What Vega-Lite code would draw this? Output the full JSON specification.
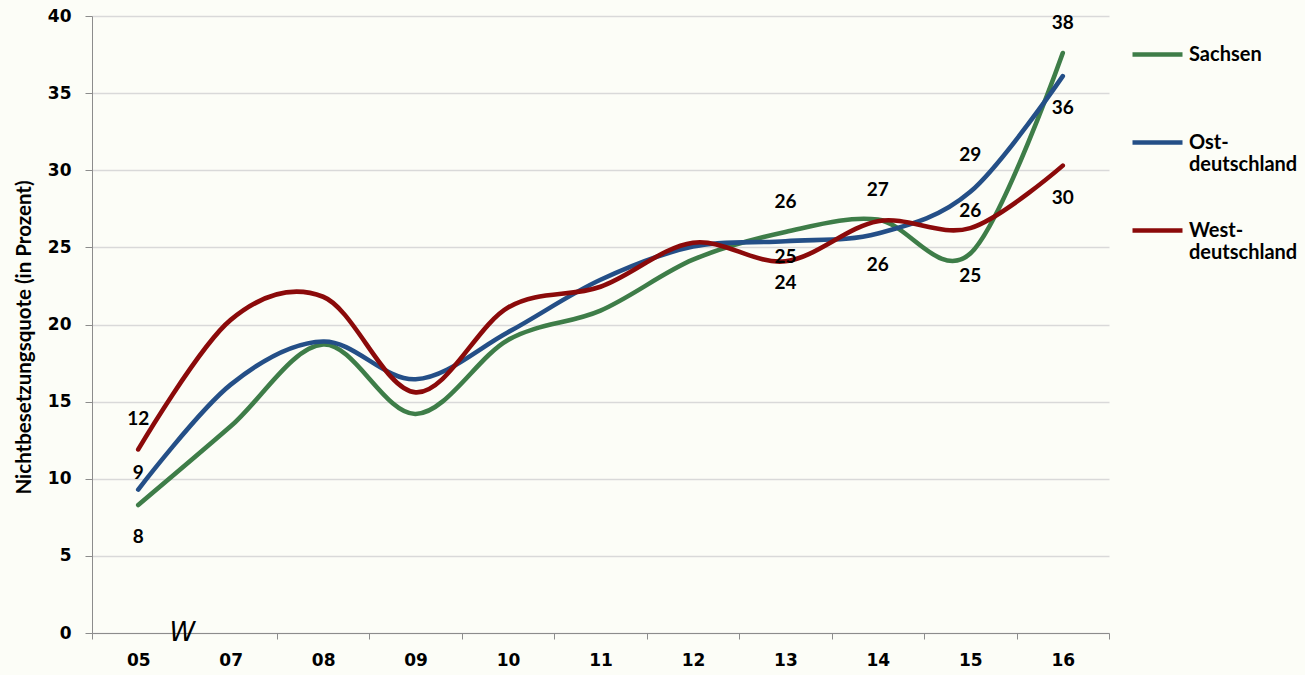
{
  "$schema": "https://vega.github.io/schema/vega-lite/v6.json",
  "width": 1017,
  "height": 617,
  "autosize": {"type": "none"},
  "padding": {"left": 92, "top": 16, "right": 196, "bottom": 42},
  "background": "#fcfdf7",
  "config": {"view": {"stroke": null}},
  "datasets": {
    "quote": [
      {"year": "05", "series": "Sachsen", "value": 8.3},
      {"year": "07", "series": "Sachsen", "value": 13.4},
      {"year": "08", "series": "Sachsen", "value": 18.7},
      {"year": "09", "series": "Sachsen", "value": 14.2},
      {"year": "10", "series": "Sachsen", "value": 19.0},
      {"year": "11", "series": "Sachsen", "value": 20.9},
      {"year": "12", "series": "Sachsen", "value": 24.2},
      {"year": "13", "series": "Sachsen", "value": 26.0},
      {"year": "14", "series": "Sachsen", "value": 26.8},
      {"year": "15", "series": "Sachsen", "value": 24.6},
      {"year": "16", "series": "Sachsen", "value": 37.6},
      {"year": "05", "series": "Ostdeutschland", "value": 9.3},
      {"year": "07", "series": "Ostdeutschland", "value": 16.1},
      {"year": "08", "series": "Ostdeutschland", "value": 18.9},
      {"year": "09", "series": "Ostdeutschland", "value": 16.45},
      {"year": "10", "series": "Ostdeutschland", "value": 19.5},
      {"year": "11", "series": "Ostdeutschland", "value": 22.9},
      {"year": "12", "series": "Ostdeutschland", "value": 25.05},
      {"year": "13", "series": "Ostdeutschland", "value": 25.4},
      {"year": "14", "series": "Ostdeutschland", "value": 25.9},
      {"year": "15", "series": "Ostdeutschland", "value": 28.6},
      {"year": "16", "series": "Ostdeutschland", "value": 36.1},
      {"year": "05", "series": "Westdeutschland", "value": 11.9},
      {"year": "07", "series": "Westdeutschland", "value": 20.3},
      {"year": "08", "series": "Westdeutschland", "value": 21.8},
      {"year": "09", "series": "Westdeutschland", "value": 15.6},
      {"year": "10", "series": "Westdeutschland", "value": 21.1},
      {"year": "11", "series": "Westdeutschland", "value": 22.45},
      {"year": "12", "series": "Westdeutschland", "value": 25.3},
      {"year": "13", "series": "Westdeutschland", "value": 24.1},
      {"year": "14", "series": "Westdeutschland", "value": 26.7},
      {"year": "15", "series": "Westdeutschland", "value": 26.25},
      {"year": "16", "series": "Westdeutschland", "value": 30.3}
    ],
    "brk": [{"year": "05", "value": 0, "sym": "W"}]
  },
  "data": {"name": "quote"},
  "encoding": {
    "x": {
      "field": "year", "type": "ordinal", "bandPosition": 0.5,
      "scale": {"type": "band", "paddingInner": 0, "paddingOuter": 0},
      "axis": {
        "title": null, "labelAngle": 0, "tickBand": "extent",
        "domainColor": "#8c8c8c", "tickColor": "#8c8c8c", "tickSize": 6,
        "labelFont": "DejaVu Sans", "labelFontWeight": "bold", "labelFontSize": 17,
        "labelColor": "#000000", "labelPadding": 13
      }
    },
    "y": {
      "field": "value", "type": "quantitative",
      "scale": {"domain": [0, 40], "nice": false},
      "axis": {
        "title": "Nichtbesetzungsquote  (in Prozent)",
        "titleFont": "Lato", "titleFontSize": 20.5, "titleFontWeight": "bold", "titleColor": "#000000",
        "titlePadding": 13, "titleY": 321,
        "values": [0, 5, 10, 15, 20, 25, 30, 35, 40],
        "domainColor": "#8c8c8c", "tickColor": "#8c8c8c", "tickSize": 7,
        "gridColor": "#d9d9d9", "gridWidth": 1.3,
        "labelFont": "DejaVu Sans", "labelFontWeight": "bold", "labelFontSize": 17,
        "labelColor": "#000000", "labelPadding": 14
      }
    }
  },
  "layer": [
    {
      "mark": {"type": "line", "interpolate": "cardinal", "strokeWidth": 4.6, "strokeCap": "round"},
      "encoding": {
        "color": {
          "field": "series", "type": "nominal",
          "scale": {"domain": ["Sachsen", "Ostdeutschland", "Westdeutschland"], "range": ["#3e7d48", "#244f87", "#8b0a0a"]},
          "legend": {
            "title": null, "orient": "none", "legendX": 1038, "legendY": 11,
            "symbolType": "stroke", "symbolSize": 2500, "symbolStrokeWidth": 4.6,
            "labelFont": "Lato", "labelFontWeight": "bold", "labelFontSize": 20, "labelColor": "#000000",
            "labelBaseline": "middle", "labelOffset": 4, "rowPadding": 28, "labelLimit": 200,
            "labelExpr": "datum.label == 'Ostdeutschland' ? ['Ost-', 'deutschland'] : datum.label == 'Westdeutschland' ? ['West-', 'deutschland'] : [datum.label, ' ']"
          }
        }
      }
    },
    {
      "transform": [{"filter": "(datum.series == 'Westdeutschland' && datum.year == '05') || (datum.series == 'Sachsen' && (datum.year == '13' || datum.year == '14' || datum.year == '16'))"}],
      "mark": {"type": "text", "dy": -30, "font": "Lato", "fontWeight": "bold", "fontSize": 19, "color": "#000000"},
      "encoding": {"text": {"field": "value", "format": ".0f"}}
    },
    {
      "transform": [{"filter": "datum.series == 'Ostdeutschland' && datum.year == '15'"}],
      "mark": {"type": "text", "dy": -37, "font": "Lato", "fontWeight": "bold", "fontSize": 19, "color": "#000000"},
      "encoding": {"text": {"field": "value", "format": ".0f"}}
    },
    {
      "transform": [{"filter": "(datum.series == 'Ostdeutschland' && datum.year == '05') || (datum.series == 'Westdeutschland' && datum.year == '15')"}],
      "mark": {"type": "text", "dy": -17, "font": "Lato", "fontWeight": "bold", "fontSize": 19, "color": "#000000"},
      "encoding": {"text": {"field": "value", "format": ".0f"}}
    },
    {
      "transform": [{"filter": "datum.series == 'Ostdeutschland' && datum.year == '13'"}],
      "mark": {"type": "text", "dy": 16, "font": "Lato", "fontWeight": "bold", "fontSize": 19, "color": "#000000"},
      "encoding": {"text": {"field": "value", "format": ".0f"}}
    },
    {
      "transform": [{"filter": "(datum.series == 'Westdeutschland' && datum.year == '13') || (datum.series == 'Sachsen' && datum.year == '15')"}],
      "mark": {"type": "text", "dy": 22, "font": "Lato", "fontWeight": "bold", "fontSize": 19, "color": "#000000"},
      "encoding": {"text": {"field": "value", "format": ".0f"}}
    },
    {
      "transform": [{"filter": "(datum.series == 'Sachsen' && datum.year == '05') || (datum.series == 'Ostdeutschland' && (datum.year == '14' || datum.year == '16')) || (datum.series == 'Westdeutschland' && datum.year == '16')"}],
      "mark": {"type": "text", "dy": 32, "font": "Lato", "fontWeight": "bold", "fontSize": 19, "color": "#000000"},
      "encoding": {"text": {"field": "value", "format": ".0f"}}
    },
    {
      "data": {"name": "brk"},
      "mark": {"type": "text", "font": "DejaVu Sans", "fontStyle": "italic", "fontSize": 26, "color": "#000000", "baseline": "middle", "dx": -2},
      "encoding": {
        "x": {"field": "year", "type": "ordinal", "bandPosition": 1},
        "text": {"field": "sym"}
      }
    }
  ]
}
